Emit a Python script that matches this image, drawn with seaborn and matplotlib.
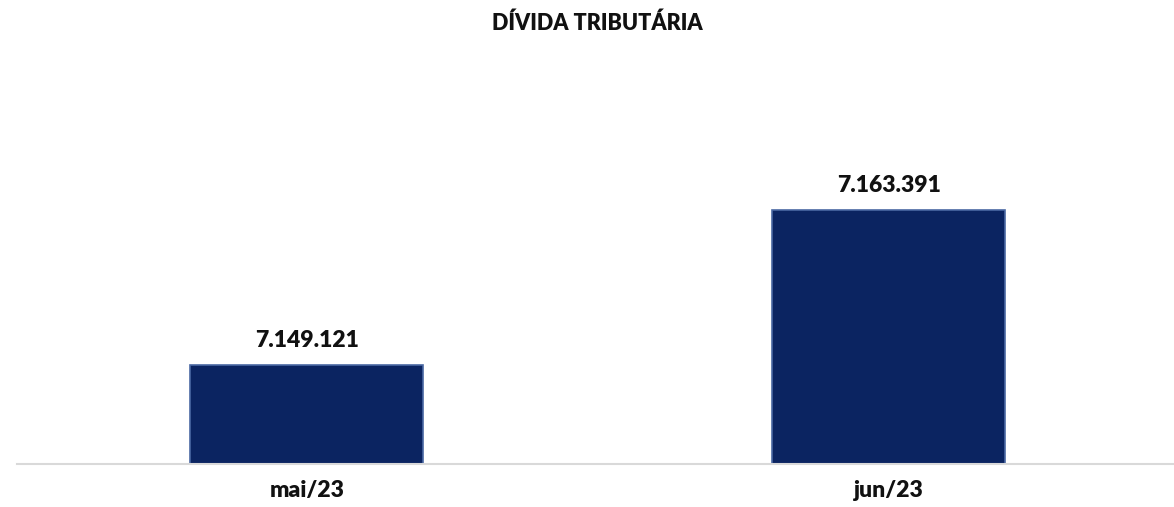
import numpy as np
import pandas as pd
import matplotlib
matplotlib.use('Agg')
import matplotlib.pyplot as plt
import seaborn as sns

# dados
meses = ['mai/23', 'jun/23']
divida = [7149121, 7163391]

df = pd.DataFrame({'mes': meses, 'valor': divida})

sns.set_theme(style='white')
plt.rcParams['font.family'] = ['Lato', 'DejaVu Sans']

fig = plt.figure(figsize=(11.74, 5.07), dpi=100)
ax = fig.add_axes([17 / 1174, 1 - 463.7 / 507, 1 - 17 / 1174, (463.7 - 40) / 507])

sns.barplot(data=df, x='mes', y='valor', color='#0b2461', width=0.4,
            edgecolor='#4a68a3', linewidth=1.2, saturation=1, ax=ax)

ax.set_ylim(7140000, 7179000)
ax.set_xlim(-0.498, 1.49)

# rótulos de valor
for i, v in enumerate(divida):
    txt = f'{v:,}'.replace(',', '.')
    ax.annotate(txt, (i, v), xytext=(0, 10), textcoords='offset points',
                ha='center', va='bottom', fontsize=16.5, fontweight='heavy',
                color='#111111')

ax.set_xlabel(None)
ax.set_ylabel(None)
ax.set_yticks([])
ax.tick_params(axis='x', length=0, pad=12, labelsize=16.5)
for lbl in ax.get_xticklabels():
    lbl.set_fontweight('heavy')
    lbl.set_color('#111111')

for s in ['top', 'right', 'left']:
    ax.spines[s].set_visible(False)
ax.spines['bottom'].set_color('#d9d9d9')
ax.spines['bottom'].set_linewidth(1.5)

fig.text(597 / 1174, 1 - 23 / 507, 'DÍVIDA TRIBUTÁRIA', ha='center', va='center',
         fontsize=15.5, fontweight='heavy', color='#111111')

fig.savefig('out.png', dpi=100, facecolor='white')
